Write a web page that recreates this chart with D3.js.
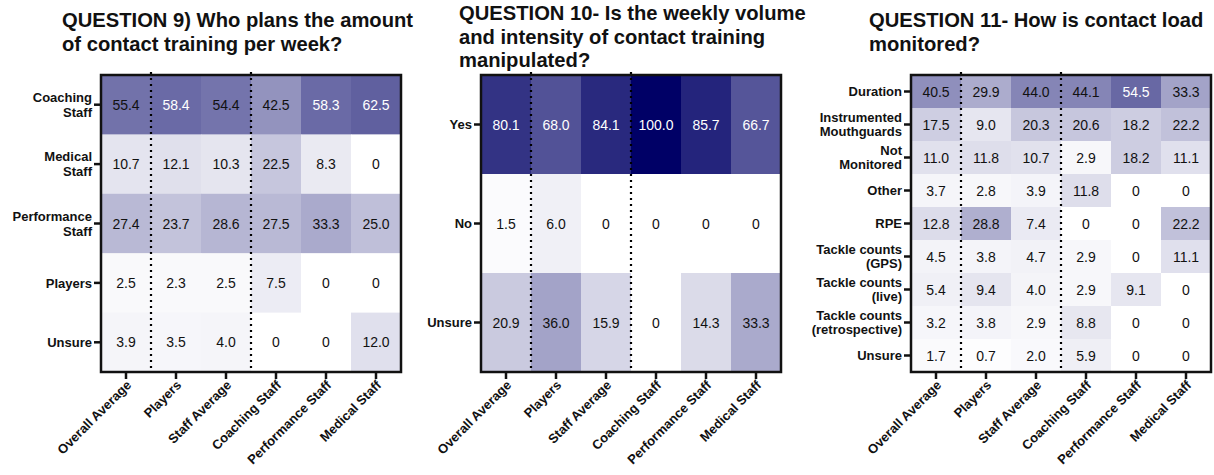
<!DOCTYPE html>
<html>
<head>
<meta charset="utf-8">
<script src="https://cdn.jsdelivr.net/npm/d3@7"></script>
<style>
  body { margin: 0; background: #fff; }
  svg { font-family: "Liberation Sans", Arial, sans-serif; }
</style>
</head>
<body>
<div id="chart"></div>
<script>
// Column groups (same for all three questions)
var groups = ["Overall Average", "Players", "Staff Average", "Coaching Staff", "Performance Staff", "Medical Staff"];

// Question 9
var q9Title = ["QUESTION 9) Who plans the amount", "of contact training per week?"];
var q9Rows = ["Coaching\nStaff", "Medical\nStaff", "Performance\nStaff", "Players", "Unsure"];
var q9Values = [
    [55.4, 58.4, 54.4, 42.5, 58.3, 62.5],
    [10.7, 12.1, 10.3, 22.5, 8.3, 0],
    [27.4, 23.7, 28.6, 27.5, 33.3, 25.0],
    [2.5, 2.3, 2.5, 7.5, 0, 0],
    [3.9, 3.5, 4.0, 0, 0, 12.0]
];

// Question 10
var q10Title = ["QUESTION 10- Is the weekly volume", "and intensity of contact training", "manipulated?"];
var q10Rows = ["Yes", "No", "Unsure"];
var q10Values = [
    [80.1, 68.0, 84.1, 100.0, 85.7, 66.7],
    [1.5, 6.0, 0, 0, 0, 0],
    [20.9, 36.0, 15.9, 0, 14.3, 33.3]
];

// Question 11
var q11Title = ["QUESTION 11- How is contact load", "monitored?"];
var q11Rows = ["Duration", "Instrumented\nMouthguards", "Not\nMonitored", "Other", "RPE",
    "Tackle counts\n(GPS)", "Tackle counts\n(live)", "Tackle counts\n(retrospective)", "Unsure"];
var q11Values = [
    [40.5, 29.9, 44.0, 44.1, 54.5, 33.3],
    [17.5, 9.0, 20.3, 20.6, 18.2, 22.2],
    [11.0, 11.8, 10.7, 2.9, 18.2, 11.1],
    [3.7, 2.8, 3.9, 11.8, 0, 0],
    [12.8, 28.8, 7.4, 0, 0, 22.2],
    [4.5, 3.8, 4.7, 2.9, 0, 11.1],
    [5.4, 9.4, 4.0, 2.9, 9.1, 0],
    [3.2, 3.8, 2.9, 8.8, 0, 0],
    [1.7, 0.7, 2.0, 5.9, 0, 0]
];

var svg = d3.select("#chart").append("svg")
    .attr("width", 1214)
    .attr("height", 475);

function heatmap(opts) {
    var w = 300, h = 297;
    var g = svg.append("g").attr("transform", "translate(" + opts.left + "," + opts.top + ")");

    // title
    var title = svg.append("text")
        .attr("x", opts.titleX)
        .attr("y", opts.titleY)
        .style("font-size", "20.2px")
        .style("font-weight", "bold")
        .style("fill", "#111");
    opts.title.forEach(function (line, i) {
        title.append("tspan").attr("x", opts.titleX).attr("dy", i === 0 ? 0 : 23.5).text(line);
    });

    var x = d3.scaleBand().domain(groups).range([0, w]);
    var y = d3.scaleBand().domain(opts.rows).range([0, h]);
    var color = d3.scaleLinear().domain([0, opts.max]).range(["#ffffff", "#000066"]).clamp(true);

    var cells = [];
    opts.values.forEach(function (row, r) {
        row.forEach(function (v, c) {
            cells.push({ row: opts.rows[r], col: groups[c], value: v });
        });
    });

    g.selectAll("rect.cell")
        .data(cells)
        .enter()
        .append("rect")
        .attr("class", "cell")
        .attr("x", function (d) { return x(d.col); })
        .attr("y", function (d) { return y(d.row); })
        .attr("width", x.bandwidth() + 0.5)
        .attr("height", y.bandwidth() + 0.5)
        .attr("fill", function (d) { return color(d.value); });

    g.selectAll("text.val")
        .data(cells)
        .enter()
        .append("text")
        .attr("class", "val")
        .attr("x", function (d) { return x(d.col) + x.bandwidth() / 2; })
        .attr("y", function (d) { return y(d.row) + y.bandwidth() / 2; })
        .attr("dy", "0.36em")
        .attr("text-anchor", "middle")
        .style("font-size", "14px")
        .style("fill", function (d) { return d.value / opts.max > 0.57 ? "#ffffff" : "#111111"; })
        .text(function (d) { return d.value === 0 ? "0" : d.value.toFixed(1); });

    // dotted separators after "Overall Average" and "Staff Average"
    ["Players", "Coaching Staff"].forEach(function (k) {
        g.append("line")
            .attr("x1", x(k)).attr("x2", x(k))
            .attr("y1", -3).attr("y2", h)
            .attr("stroke", "#000")
            .attr("stroke-width", 2.2)
            .attr("stroke-dasharray", "2,4");
    });

    // frame
    g.append("rect")
        .attr("width", w).attr("height", h)
        .attr("fill", "none")
        .attr("stroke", "#111")
        .attr("stroke-width", 2.5);

    // x axis
    var xAxis = g.append("g")
        .attr("transform", "translate(0," + (h + 1) + ")")
        .call(d3.axisBottom(x).tickSize(6).tickSizeOuter(0));
    xAxis.select(".domain").remove();
    xAxis.selectAll(".tick line").attr("stroke", "#111").attr("stroke-width", 2.5);
    xAxis.selectAll(".tick text")
        .attr("transform", "translate(0,4) rotate(-45)")
        .attr("text-anchor", "end")
        .attr("dy", "0.35em")
        .attr("y", 6)
        .attr("x", -2)
        .style("font-size", "13px")
        .style("font-weight", "bold")
        .style("fill", "#111");

    // y axis
    var yAxis = g.append("g")
        .attr("transform", "translate(-1,0)")
        .call(d3.axisLeft(y).tickSize(6).tickSizeOuter(0));
    yAxis.select(".domain").remove();
    yAxis.selectAll(".tick line").attr("stroke", "#111").attr("stroke-width", 2.5);
    yAxis.selectAll(".tick text").each(function (d) {
        var t = d3.select(this);
        var lines = d.split("\n");
        t.text(null)
            .attr("x", -8)
            .attr("dy", null)
            .style("font-size", "13px")
            .style("font-weight", "bold")
            .style("fill", "#111");
        var lh = opts.lineH;
        lines.forEach(function (ln, i) {
            t.append("tspan")
                .attr("x", -8)
                .attr("y", (i - (lines.length - 1) / 2) * lh)
                .attr("dy", "0.36em")
                .text(ln);
        });
    });
}

heatmap({ left: 101, top: 75, rows: q9Rows, values: q9Values, max: 100, title: q9Title, titleX: 62, titleY: 27, lineH: 15 });
heatmap({ left: 481, top: 75, rows: q10Rows, values: q10Values, max: 100, title: q10Title, titleX: 459, titleY: 20, lineH: 15 });
heatmap({ left: 911, top: 75, rows: q11Rows, values: q11Values, max: 92, title: q11Title, titleX: 869, titleY: 27, lineH: 13.5 });
</script>
</body>
</html>
